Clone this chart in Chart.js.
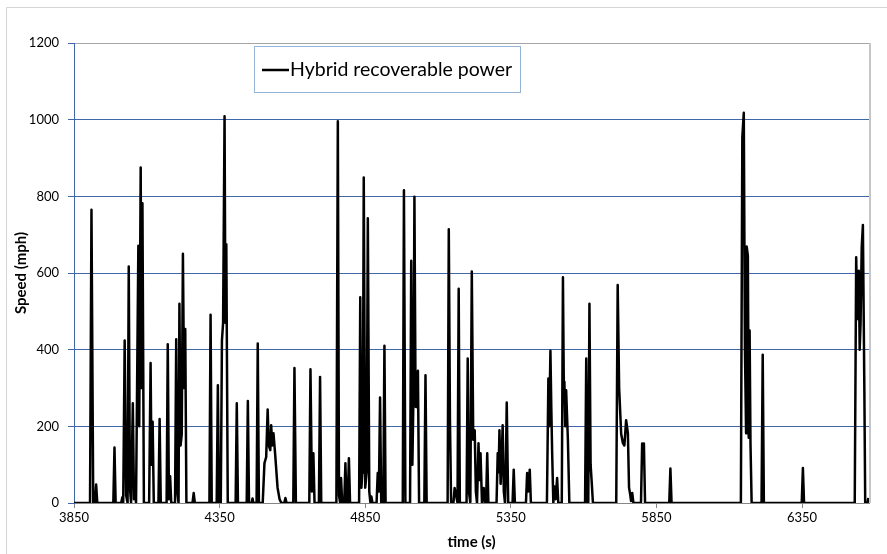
<!DOCTYPE html>
<html>
<head>
<meta charset="utf-8">
<script src="https://cdn.jsdelivr.net/npm/chart.js@4.4.1/dist/chart.umd.min.js"></script>
<style>
  html, body { margin: 0; padding: 0; background: #ffffff; }
  #wrap { width: 887px; height: 554px; position: relative; }
</style>
</head>
<body>
<div id="wrap"><canvas id="c" width="887" height="554"></canvas></div>
<script>
// ---- data ----
const seriesName = "Hybrid recoverable power";
const xTickLabels = [3850, 4350, 4850, 5350, 5850, 6350];
const yTickLabels = [0, 200, 400, 600, 800, 1000, 1200];

const timeS = [
  3850, 3905, 3910, 3916, 3922, 3926, 3930, 3985, 3989, 3993,
  4012, 4016, 4019, 4021, 4024, 4029, 4034, 4038, 4042, 4046, 4049, 4052, 4056, 4059, 4063,
  4066, 4071, 4074, 4079, 4082, 4085, 4090,
  4108, 4113, 4116, 4120, 4124, 4140, 4144, 4148,
  4168, 4172, 4176, 4180, 4184,
  4197, 4201, 4205, 4209, 4212, 4216, 4220, 4224, 4228, 4232, 4236,
  4257, 4261, 4265, 4315, 4319, 4323, 4340, 4344, 4348,
  4354, 4358, 4362, 4367, 4370, 4373, 4378,
  4405, 4409, 4413, 4443, 4447, 4451, 4460, 4463, 4466, 4477, 4481, 4485,
  4498, 4504, 4510, 4515, 4519, 4524, 4527, 4531, 4535, 4541, 4549, 4556, 4562, 4572, 4576, 4580,
  4603, 4607, 4612, 4658, 4662, 4667, 4672, 4676, 4691, 4695, 4699,
  4751, 4756, 4760, 4764, 4767, 4771, 4778, 4782, 4786, 4790, 4794, 4798,
  4829, 4833, 4837, 4840, 4842, 4845, 4850, 4855, 4859, 4864, 4868, 4871, 4875,
  4889, 4893, 4897, 4901, 4905, 4912, 4916, 4920,
  4979, 4983, 4988, 5004, 5008, 5012, 5016, 5019, 5023, 5027, 5031, 5035, 5053, 5057, 5061,
  5133, 5137, 5141, 5145, 5153, 5157, 5162, 5167, 5171, 5175,
  5198, 5202, 5206, 5211, 5216, 5221, 5226, 5230, 5234, 5239, 5243, 5246, 5251, 5257, 5261, 5265, 5269, 5273,
  5301, 5305, 5308, 5311, 5315, 5318, 5322, 5326, 5330, 5333, 5336, 5341,
  5356, 5360, 5364, 5402, 5406, 5410, 5415, 5419,
  5474, 5479, 5482, 5486, 5489, 5492, 5496, 5500, 5504, 5509, 5513,
  5525, 5529, 5532, 5534, 5537, 5540, 5546, 5551,
  5605, 5609, 5613, 5616, 5620, 5624, 5628, 5632,
  5712, 5717, 5722, 5729, 5735, 5740, 5746, 5752, 5756, 5760, 5763, 5767, 5771,
  5797, 5801, 5804, 5807, 5811, 5894, 5898, 5902,
  6140, 6145, 6150, 6154, 6158, 6160, 6164, 6167, 6170, 6173, 6177,
  6211, 6215, 6219, 6349, 6353, 6357,
  6531, 6536, 6540, 6545, 6548, 6551, 6555, 6559, 6564, 6567, 6575, 6578
];

const powerValues = [
  0, 0, 765, 0, 0, 48, 0, 0, 145, 0,
  0, 15, 0, 0, 424, 20, 0, 617, 40, 0, 0, 260, 10, 43, 0,
  0, 671, 200, 875, 300, 782, 0,
  0, 365, 100, 212, 0, 0, 219, 0,
  0, 414, 10, 70, 0,
  0, 427, 30, 0, 520, 150, 180, 650, 300, 454, 0,
  0, 26, 0, 0, 491, 0, 0, 307, 0,
  0, 424, 470, 1009, 470, 675, 0,
  0, 260, 0, 0, 266, 0, 0, 12, 0, 0, 416, 0,
  0, 104, 120, 244, 150, 138, 203, 150, 182, 125, 40, 10, 0, 0, 13, 0,
  0, 352, 0, 0, 349, 30, 130, 0, 0, 329, 0,
  0, 996, 20, 0, 65, 0, 0, 104, 0, 0, 117, 0,
  0, 537, 40, 78, 200, 849, 40, 80, 743, 30, 0, 17, 0,
  0, 78, 30, 275, 0, 0, 410, 0,
  0, 816, 0, 0, 632, 100, 300, 799, 251, 250, 345, 0, 0, 333, 0,
  0, 714, 218, 0, 0, 39, 20, 0, 559, 0,
  0, 377, 30, 0, 604, 165, 190, 30, 0, 156, 60, 130, 0, 39, 0, 0, 130, 0,
  0, 130, 80, 190, 50, 100, 203, 30, 0, 100, 262, 0,
  0, 87, 0, 0, 78, 30, 87, 0,
  0, 325, 200, 397, 250, 130, 0, 43, 10, 65, 0,
  0, 589, 300, 316, 200, 294, 165, 0,
  0, 377, 0, 0, 520, 100, 52, 0,
  0, 569, 300, 180, 156, 150, 216, 182, 40, 22, 5, 26, 0,
  0, 155, 150, 155, 0, 0, 90, 0,
  0, 953, 1018, 400, 182, 669, 645, 170, 450, 156, 0,
  0, 387, 0, 0, 91, 0,
  0, 641, 480, 606, 400, 468, 667, 725, 300, 0, 0, 13
];

// ---- chart ----
const FONT = "Lato, 'Open Sans', 'Liberation Sans', sans-serif";
const GRID_BLUE = '#4068a8';
const points = timeS.map((t, i) => ({ x: t, y: powerValues[i] }));

const frame = {
  id: 'frame',
  beforeDraw(chart) {
    const c = chart.ctx;
    c.save();
    c.fillStyle = '#ffffff';
    c.fillRect(0, 0, chart.width, chart.height);
    c.strokeStyle = '#d4d4d4';
    c.lineWidth = 1;
    c.beginPath();
    c.moveTo(6.5, chart.height);
    c.lineTo(6.5, 7.5);
    c.lineTo(chart.width, 7.5);
    c.stroke();
    c.restore();
  },
  afterDraw(chart) {
    const c = chart.ctx;
    const a = chart.chartArea;
    c.save();
    // plot area right border
    c.strokeStyle = '#c6c6c6';
    c.lineWidth = 2;
    c.beginPath();
    c.moveTo(a.right + 1, a.top);
    c.lineTo(a.right + 1, a.bottom);
    c.stroke();
    // legend box
    const bx = 254.5, by = 46.5, bw = 266, bh = 46;
    c.fillStyle = '#ffffff';
    c.fillRect(bx, by, bw, bh);
    c.strokeStyle = '#95b3d7';
    c.lineWidth = 1;
    c.strokeRect(bx, by, bw, bh);
    c.strokeStyle = '#000000';
    c.lineWidth = 2.5;
    c.beginPath();
    c.moveTo(262, 70);
    c.lineTo(289, 70);
    c.stroke();
    c.fillStyle = '#000000';
    c.font = "19.5px " + FONT;
    c.textBaseline = 'middle';
    c.textAlign = 'left';
    c.fillText(seriesName, 290, 70);
    c.restore();
  }
};

new Chart(document.getElementById('c'), {
  type: 'line',
  data: {
    datasets: [{
      label: seriesName,
      data: points,
      borderColor: '#000000',
      backgroundColor: '#000000',
      borderWidth: 2.5,
      pointRadius: 0,
      tension: 0,
      fill: false,
      borderJoinStyle: 'round'
    }]
  },
  options: {
    responsive: false,
    animation: false,
    layout: { padding: { left: 0, right: 18, top: 43, bottom: 0 } },
    plugins: { legend: { display: false }, tooltip: { enabled: false } },
    scales: {
      x: {
        type: 'linear',
        min: 3850,
        max: 6580,
        afterFit(s) { s.height = 51; },
        afterBuildTicks(s) { s.ticks = xTickLabels.map(v => ({ value: v })); },
        grid: { drawOnChartArea: false, drawTicks: true, tickLength: 5, color: '#868686' },
        border: { display: true, color: '#868686', width: 1 },
        ticks: { font: { family: FONT, size: 13 }, color: '#000000', padding: 2, maxRotation: 0,
                 callback: v => String(v) },
        title: { display: true, text: 'time (s)', font: { family: FONT, size: 15, weight: 'bold' },
                 color: '#000000', padding: { top: 0, bottom: 3 } }
      },
      y: {
        type: 'linear',
        min: 0,
        max: 1200,
        afterFit(s) { s.width = 74; },
        afterBuildTicks(s) { s.ticks = yTickLabels.map(v => ({ value: v })); },
        grid: {
          color: ctx => (ctx.tick && ctx.tick.value === 1200) ? '#a6a6a6' : GRID_BLUE,
          tickColor: GRID_BLUE,
          tickLength: 6,
          lineWidth: 1
        },
        border: { display: true, color: GRID_BLUE, width: 1 },
        ticks: { font: { family: FONT, size: 13 }, color: '#000000', padding: 9,
                 callback: v => String(v) },
        title: { display: true, text: 'Speed (mph)', font: { family: FONT, size: 15, weight: 'bold' },
                 color: '#000000', padding: { top: 12, bottom: 0 } }
      }
    }
  },
  plugins: [frame]
});
</script>
</body>
</html>
